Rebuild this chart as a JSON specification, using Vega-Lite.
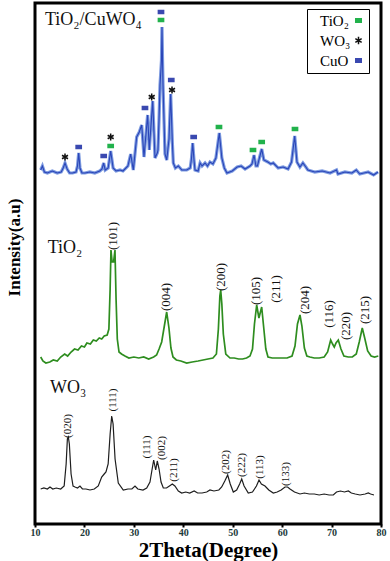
{
"$schema": "https://vega.github.io/schema/vega-lite/v6.json",
"width": 346, "height": 521,
"autosize": {"type": "none"},
"padding": {"left": 35, "top": 3, "right": 9, "bottom": 37},
"background": "white",
"config": {"view": {"stroke": "black", "strokeWidth": 3}, "font": "Liberation Serif"},
"datasets": {
"blue": [
{"theta":11.15,"intensity":354},{"theta":11.5,"intensity":358},{"theta":11.9,"intensity":352},{"theta":12.5,"intensity":351},{"theta":13.5,"intensity":353},{"theta":14.5,"intensity":351},{"theta":15.3,"intensity":352},{"theta":15.7,"intensity":356},{"theta":16.07,"intensity":361},{"theta":16.5,"intensity":355},{"theta":17.0,"intensity":351},{"theta":17.6,"intensity":351},{"theta":18.3,"intensity":352},{"theta":18.6,"intensity":358},{"theta":18.84,"intensity":371},{"theta":19.1,"intensity":356},{"theta":19.5,"intensity":351},{"theta":20.1,"intensity":351},{"theta":21.1,"intensity":352},{"theta":22.1,"intensity":351},{"theta":23.1,"intensity":353},{"theta":23.55,"intensity":355},{"theta":23.9,"intensity":361},{"theta":24.2,"intensity":354},{"theta":24.8,"intensity":356},{"theta":25.31,"intensity":373},{"theta":25.8,"intensity":356},{"theta":26.4,"intensity":353},{"theta":27.2,"intensity":354},{"theta":27.8,"intensity":353},{"theta":28.8,"intensity":358},{"theta":29.36,"intensity":370},{"theta":29.89,"intensity":354},{"theta":30.57,"intensity":387},{"theta":31.1,"intensity":392},{"theta":31.59,"intensity":399},{"theta":32.05,"intensity":367},{"theta":32.79,"intensity":409},{"theta":33.12,"intensity":374},{"theta":33.81,"intensity":423},{"theta":34.28,"intensity":366},{"theta":34.74,"intensity":371},{"theta":34.88,"intensity":374},{"theta":35.09,"intensity":404},{"theta":35.29,"intensity":439},{"theta":35.59,"intensity":464},{"theta":35.69,"intensity":497},{"theta":35.8,"intensity":464},{"theta":35.9,"intensity":439},{"theta":36.1,"intensity":404},{"theta":36.3,"intensity":370},{"theta":36.65,"intensity":364},{"theta":37.11,"intensity":385},{"theta":37.45,"intensity":430},{"theta":37.8,"intensity":380},{"theta":37.98,"intensity":361},{"theta":38.4,"intensity":356},{"theta":39.0,"intensity":358},{"theta":39.7,"intensity":354},{"theta":40.7,"intensity":354},{"theta":41.4,"intensity":356},{"theta":41.65,"intensity":365},{"theta":41.9,"intensity":381},{"theta":42.15,"intensity":365},{"theta":42.37,"intensity":354},{"theta":43.0,"intensity":353},{"theta":43.4,"intensity":361},{"theta":43.8,"intensity":358},{"theta":44.4,"intensity":361},{"theta":44.9,"intensity":358},{"theta":45.4,"intensity":362},{"theta":46.0,"intensity":360},{"theta":46.6,"intensity":366},{"theta":47.29,"intensity":391},{"theta":47.8,"intensity":366},{"theta":48.3,"intensity":356},{"theta":48.84,"intensity":351},{"theta":49.9,"intensity":353},{"theta":50.9,"intensity":357},{"theta":51.7,"intensity":358},{"theta":52.5,"intensity":355},{"theta":53.5,"intensity":358},{"theta":53.9,"intensity":360},{"theta":54.31,"intensity":369},{"theta":54.7,"intensity":358},{"theta":55.0,"intensity":358},{"theta":55.4,"intensity":366},{"theta":55.87,"intensity":375},{"theta":56.3,"intensity":364},{"theta":57.1,"intensity":362},{"theta":57.7,"intensity":360},{"theta":58.2,"intensity":361},{"theta":59.2,"intensity":356},{"theta":60.2,"intensity":357},{"theta":61.2,"intensity":355},{"theta":61.9,"intensity":362},{"theta":62.54,"intensity":388},{"theta":63.0,"intensity":362},{"theta":63.6,"intensity":357},{"theta":64.2,"intensity":361},{"theta":64.8,"intensity":357},{"theta":65.2,"intensity":354},{"theta":66.6,"intensity":352},{"theta":68.1,"intensity":353},{"theta":69.7,"intensity":351},{"theta":71.0,"intensity":354},{"theta":71.3,"intensity":350},{"theta":72.7,"intensity":352},{"theta":74.1,"intensity":351},{"theta":75.0,"intensity":354},{"theta":75.7,"intensity":350},{"theta":77.4,"intensity":352},{"theta":78.5,"intensity":349},{"theta":79.4,"intensity":352}
],
"green": [
{"theta":11.15,"intensity":167},{"theta":11.6,"intensity":163},{"theta":12.2,"intensity":161},{"theta":13.0,"intensity":162},{"theta":13.7,"intensity":164},{"theta":14.5,"intensity":163},{"theta":15.2,"intensity":167},{"theta":16.0,"intensity":170},{"theta":16.6,"intensity":168},{"theta":17.3,"intensity":172},{"theta":18.0,"intensity":175},{"theta":18.7,"intensity":174},{"theta":19.4,"intensity":178},{"theta":20.0,"intensity":177},{"theta":20.5,"intensity":181},{"theta":21.2,"intensity":180},{"theta":21.8,"intensity":184},{"theta":22.4,"intensity":183},{"theta":23.0,"intensity":186},{"theta":23.5,"intensity":185},{"theta":24.0,"intensity":188},{"theta":24.6,"intensity":189},{"theta":24.95,"intensity":195},{"theta":25.2,"intensity":235},{"theta":25.37,"intensity":274},{"theta":25.6,"intensity":262},{"theta":25.9,"intensity":262},{"theta":26.18,"intensity":274},{"theta":26.4,"intensity":225},{"theta":26.65,"intensity":185},{"theta":27.0,"intensity":172},{"theta":27.5,"intensity":170},{"theta":28.2,"intensity":168},{"theta":29.0,"intensity":166},{"theta":30.0,"intensity":167},{"theta":31.0,"intensity":166},{"theta":32.0,"intensity":167},{"theta":33.0,"intensity":165},{"theta":34.0,"intensity":167},{"theta":34.6,"intensity":169},{"theta":35.1,"intensity":175},{"theta":35.63,"intensity":182},{"theta":36.1,"intensity":196},{"theta":36.64,"intensity":212},{"theta":37.1,"intensity":196},{"theta":37.5,"intensity":176},{"theta":37.92,"intensity":167},{"theta":38.6,"intensity":164},{"theta":39.5,"intensity":163},{"theta":40.69,"intensity":161},{"theta":41.8,"intensity":162},{"theta":43.0,"intensity":163},{"theta":44.0,"intensity":164},{"theta":45.0,"intensity":165},{"theta":46.0,"intensity":166},{"theta":46.7,"intensity":170},{"theta":47.1,"intensity":195},{"theta":47.4,"intensity":228},{"theta":47.57,"intensity":234},{"theta":47.8,"intensity":220},{"theta":48.1,"intensity":190},{"theta":48.6,"intensity":170},{"theta":49.45,"intensity":166},{"theta":50.3,"intensity":166},{"theta":51.2,"intensity":165},{"theta":52.0,"intensity":165},{"theta":52.8,"intensity":166},{"theta":53.5,"intensity":168},{"theta":54.0,"intensity":175},{"theta":54.4,"intensity":200},{"theta":54.85,"intensity":219},{"theta":55.3,"intensity":206},{"theta":55.86,"intensity":217},{"theta":56.3,"intensity":195},{"theta":56.7,"intensity":175},{"theta":57.14,"intensity":167},{"theta":58.0,"intensity":166},{"theta":59.0,"intensity":166},{"theta":60.0,"intensity":166},{"theta":61.0,"intensity":166},{"theta":62.0,"intensity":168},{"theta":62.6,"intensity":178},{"theta":63.1,"intensity":200},{"theta":63.61,"intensity":209},{"theta":64.0,"intensity":198},{"theta":64.5,"intensity":176},{"theta":65.0,"intensity":168},{"theta":65.63,"intensity":167},{"theta":66.5,"intensity":166},{"theta":67.5,"intensity":166},{"theta":68.5,"intensity":167},{"theta":69.2,"intensity":172},{"theta":69.82,"intensity":184},{"theta":70.2,"intensity":180},{"theta":70.55,"intensity":177},{"theta":70.9,"intensity":181},{"theta":71.36,"intensity":184},{"theta":71.9,"intensity":175},{"theta":72.5,"intensity":168},{"theta":73.38,"intensity":167},{"theta":74.2,"intensity":167},{"theta":75.0,"intensity":170},{"theta":75.6,"intensity":182},{"theta":76.21,"intensity":196},{"theta":76.7,"intensity":186},{"theta":77.3,"intensity":173},{"theta":78.0,"intensity":168},{"theta":78.7,"intensity":167},{"theta":79.45,"intensity":168}
],
"black": [
{"theta":11.15,"intensity":35},{"theta":11.8,"intensity":36},{"theta":12.5,"intensity":35},{"theta":13.03,"intensity":37},{"theta":13.6,"intensity":35},{"theta":14.3,"intensity":36},{"theta":15.2,"intensity":35},{"theta":15.9,"intensity":38},{"theta":16.3,"intensity":60},{"theta":16.55,"intensity":85},{"theta":16.74,"intensity":87},{"theta":16.95,"intensity":80},{"theta":17.3,"intensity":50},{"theta":17.7,"intensity":38},{"theta":18.09,"intensity":37},{"theta":18.6,"intensity":36},{"theta":19.1,"intensity":38},{"theta":19.6,"intensity":35},{"theta":20.3,"intensity":35},{"theta":21.13,"intensity":34},{"theta":22.0,"intensity":35},{"theta":22.8,"intensity":38},{"theta":23.49,"intensity":47},{"theta":24.0,"intensity":50},{"theta":24.36,"intensity":52},{"theta":24.8,"intensity":60},{"theta":25.2,"intensity":90},{"theta":25.52,"intensity":108},{"theta":25.8,"intensity":100},{"theta":26.2,"intensity":65},{"theta":26.85,"intensity":41},{"theta":27.86,"intensity":34},{"theta":28.8,"intensity":35},{"theta":29.6,"intensity":35},{"theta":30.23,"intensity":38},{"theta":30.8,"intensity":35},{"theta":31.85,"intensity":34},{"theta":32.6,"intensity":36},{"theta":33.26,"intensity":42},{"theta":33.7,"intensity":55},{"theta":34.01,"intensity":64},{"theta":34.42,"intensity":54},{"theta":34.74,"intensity":63},{"theta":35.1,"intensity":55},{"theta":35.5,"intensity":42},{"theta":35.96,"intensity":36},{"theta":36.6,"intensity":36},{"theta":37.2,"intensity":38},{"theta":37.78,"intensity":40},{"theta":38.3,"intensity":38},{"theta":39.0,"intensity":33},{"theta":39.68,"intensity":31},{"theta":40.5,"intensity":32},{"theta":41.3,"intensity":31},{"theta":42.2,"intensity":33},{"theta":42.9,"intensity":31},{"theta":43.8,"intensity":31},{"theta":44.74,"intensity":32},{"theta":45.4,"intensity":34},{"theta":46.2,"intensity":33},{"theta":47.2,"intensity":34},{"theta":47.77,"intensity":37},{"theta":48.4,"intensity":43},{"theta":48.98,"intensity":49},{"theta":49.5,"intensity":40},{"theta":50.12,"intensity":32},{"theta":50.8,"intensity":34},{"theta":51.4,"intensity":40},{"theta":51.82,"intensity":45},{"theta":52.3,"intensity":38},{"theta":53.15,"intensity":31},{"theta":54.0,"intensity":32},{"theta":54.8,"intensity":38},{"theta":55.32,"intensity":44},{"theta":55.8,"intensity":40},{"theta":56.53,"intensity":38},{"theta":57.3,"intensity":34},{"theta":58.21,"intensity":31},{"theta":59.0,"intensity":32},{"theta":59.8,"intensity":34},{"theta":60.58,"intensity":37},{"theta":61.1,"intensity":37},{"theta":61.59,"intensity":35},{"theta":62.5,"intensity":32},{"theta":63.61,"intensity":30},{"theta":64.5,"intensity":31},{"theta":65.5,"intensity":30},{"theta":66.5,"intensity":30},{"theta":67.5,"intensity":29},{"theta":68.5,"intensity":30},{"theta":69.5,"intensity":29},{"theta":70.35,"intensity":29},{"theta":71.0,"intensity":32},{"theta":71.8,"intensity":33},{"theta":72.6,"intensity":32},{"theta":73.4,"intensity":33},{"theta":74.0,"intensity":31},{"theta":74.8,"intensity":30},{"theta":75.75,"intensity":29},{"theta":76.8,"intensity":30},{"theta":77.43,"intensity":31},{"theta":77.9,"intensity":30},{"theta":78.58,"intensity":29}
],
"markers": [
{"theta":16.07,"intensity":367,"phase":"WO₃"},
{"theta":18.84,"intensity":377,"phase":"CuO"},
{"theta":23.9,"intensity":368,"phase":"CuO"},
{"theta":25.31,"intensity":378,"phase":"TiO₂"},
{"theta":25.31,"intensity":387,"phase":"WO₃"},
{"theta":32.25,"intensity":416,"phase":"CuO"},
{"theta":33.61,"intensity":427,"phase":"WO₃"},
{"theta":35.49,"intensity":512,"phase":"CuO"},
{"theta":35.49,"intensity":504,"phase":"TiO₂"},
{"theta":37.57,"intensity":444,"phase":"CuO"},
{"theta":37.72,"intensity":434,"phase":"WO₃"},
{"theta":42.1,"intensity":387,"phase":"CuO"},
{"theta":47.22,"intensity":397,"phase":"TiO₂"},
{"theta":54.1,"intensity":374,"phase":"TiO₂"},
{"theta":55.86,"intensity":382,"phase":"TiO₂"},
{"theta":62.6,"intensity":395,"phase":"TiO₂"}
],
"hklTi": [
{"theta":25.78,"intensity":288,"label":"(101)"},
{"theta":36.5,"intensity":227,"label":"(004)"},
{"theta":47.63,"intensity":247,"label":"(200)"},
{"theta":54.71,"intensity":233,"label":"(105)"},
{"theta":58.75,"intensity":235,"label":"(211)"},
{"theta":64.62,"intensity":224,"label":"(204)"},
{"theta":69.48,"intensity":210,"label":"(116)"},
{"theta":72.92,"intensity":198,"label":"(220)"},
{"theta":76.76,"intensity":214,"label":"(215)"}
],
"hklW": [
{"theta":16.74,"intensity":98,"label":"(020)"},
{"theta":25.72,"intensity":124,"label":"(111)"},
{"theta":32.6,"intensity":77,"label":"(111)"},
{"theta":35.75,"intensity":76,"label":"(002)"},
{"theta":38.12,"intensity":54,"label":"(211)"},
{"theta":48.58,"intensity":62,"label":"(202)"},
{"theta":51.94,"intensity":59,"label":"(222)"},
{"theta":55.52,"intensity":57,"label":"(113)"},
{"theta":60.78,"intensity":50,"label":"(133)"}
],
"names": [
{"theta":12.02,"intensity":499,"name":"TiO₂/CuWO₄"},
{"theta":12.57,"intensity":271,"name":"TiO₂"},
{"theta":13.03,"intensity":131,"name":"WO₃"}
]
},
"encoding": {
"x": {"field":"theta","type":"quantitative","scale":{"domain":[10,80],"nice":false,"zero":false},
 "axis":{"title":"2Theta(Degree)","values":[10,20,30,40,50,60,70,80],"format":"d","grid":false,"domain":false,
  "labelFont":"Liberation Serif","labelFontWeight":"bold","labelFontSize":10,"labelColor":"#1c3a3a","labelPadding":0,"labelOverlap":false,"labelFlush":false,
  "tickColor":"black","tickWidth":2,"tickSize":3,
  "titleFont":"Liberation Serif","titleFontSize":21,"titleFontWeight":"bold","titleColor":"black","titlePadding":2}},
"y": {"field":"intensity","type":"quantitative","scale":{"domain":[0,521],"nice":false},
 "axis":{"title":"Intensity(a.u)","labels":false,"ticks":false,"domain":false,"grid":false,"titleY":244,
  "titleFont":"Liberation Serif","titleFontSize":17,"titleFontWeight":"bold","titleColor":"black","titlePadding":12}}
},
"layer": [
{"data":{"name":"blue"},"mark":{"type":"line","color":"#7d9be0","strokeWidth":3.2}},
{"data":{"name":"blue"},"mark":{"type":"line","color":"#2a45b8","strokeWidth":1.1}},
{"data":{"name":"green"},"mark":{"type":"line","color":"#2e8d1f","strokeWidth":1.7}},
{"data":{"name":"black"},"mark":{"type":"line","color":"#1e1e1e","strokeWidth":1.2}},
{"data":{"name":"markers"},"mark":{"type":"point","filled":true,"size":36,"strokeWidth":1.5,"opacity":1},
 "encoding":{
  "shape":{"field":"phase","type":"nominal","scale":{"domain":["TiO₂","WO₃","CuO"],"range":["M-0.87,-0.53H0.87V0.53H-0.87Z","M0,-1.15V1.15M-1,-0.58L1,0.58M-1,0.58L1,-0.58","M-0.87,-0.53H0.87V0.53H-0.87Z"]},
   "legend":{"orient":"none","legendX":272,"legendY":6,"title":null,"labelFont":"Liberation Serif","labelFontSize":15,"labelColor":"black","strokeColor":"black","padding":4,"rowPadding":4,"symbolSize":40,"symbolOffset":40,"labelOffset":-46}},
  "fill":{"field":"phase","type":"nominal","scale":{"domain":["TiO₂","WO₃","CuO"],"range":["#22b24c","#111111","#3a49b0"]},"legend":{"orient":"none","legendX":272,"legendY":6,"title":null}},
  "stroke":{"field":"phase","type":"nominal","scale":{"domain":["TiO₂","WO₃","CuO"],"range":["#22b24c","#111111","#3a49b0"]},"legend":{"orient":"none","legendX":272,"legendY":6,"title":null}}
 }},
{"data":{"name":"hklTi"},"mark":{"type":"text","angle":270,"align":"center","baseline":"middle","font":"Liberation Serif","fontSize":13,"color":"#111111"},
 "encoding":{"text":{"field":"label"}}},
{"data":{"name":"hklW"},"mark":{"type":"text","angle":270,"align":"center","baseline":"middle","font":"Liberation Serif","fontSize":11,"color":"#111111"},
 "encoding":{"text":{"field":"label"}}},
{"data":{"name":"names"},"mark":{"type":"text","align":"left","baseline":"alphabetic","font":"Liberation Serif","fontSize":18,"color":"#111111"},
 "encoding":{"text":{"field":"name"}}}
]
}
